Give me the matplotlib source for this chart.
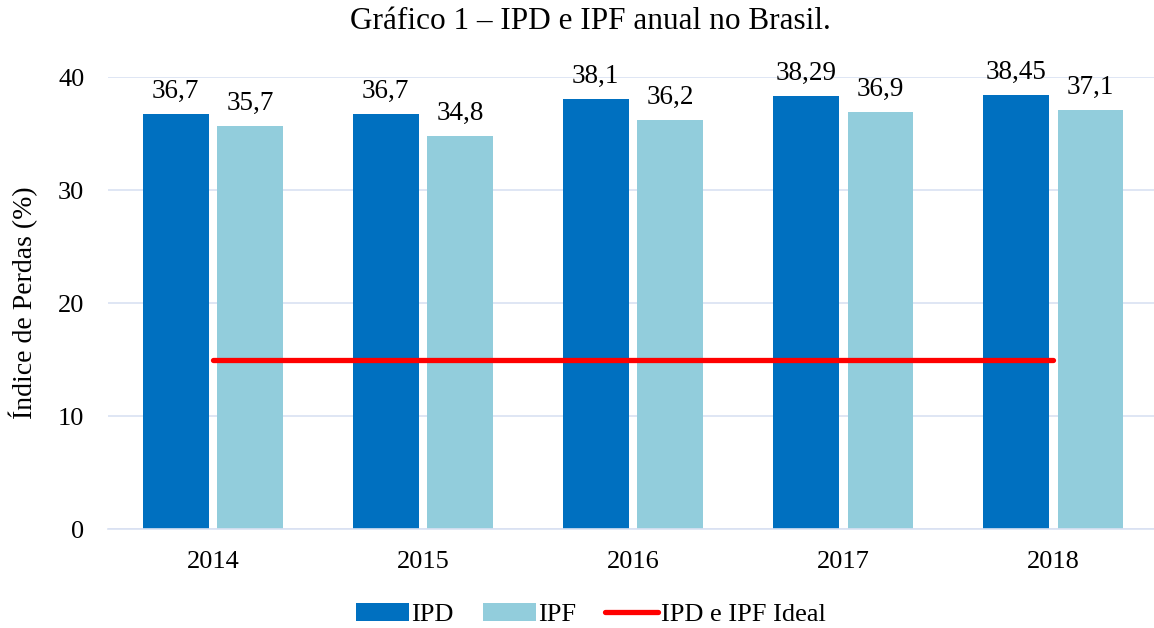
import numpy as np
import matplotlib.pyplot as plt

plt.rcParams['font.family'] = ['Liberation Serif', 'DejaVu Serif']

anos = ['2014', '2015', '2016', '2017', '2018']
ipd = [36.7, 36.7, 38.1, 38.29, 38.45]
ipf = [35.7, 34.8, 36.2, 36.9, 37.1]
ipd_lbl = ['36,7', '36,7', '38,1', '38,29', '38,45']
ipf_lbl = ['35,7', '34,8', '36,2', '36,9', '37,1']
ideal = [15, 15, 15, 15, 15]

fig = plt.figure(figsize=(11.54, 6.28), dpi=100)
ax = fig.add_axes([0.0936, 0.1576, 0.91, 0.7196])

x = np.arange(len(anos))
w = 0.314
b1 = ax.bar(x - 0.178, ipd, w, color='#0070C0', label='IPD', zorder=2)
b2 = ax.bar(x + 0.178, ipf, w, color='#92CDDC', label='IPF', zorder=2)
ln, = ax.plot(x, ideal, color='#FF0000', lw=3.8, solid_capstyle='round',
              label='IPD e IPF Ideal', zorder=3)

# rótulos de dados
for rect, t in zip(b1, ipd_lbl):
    ax.text(rect.get_x() + rect.get_width() / 2, rect.get_height() + 0.9, t,
            ha='center', va='bottom', fontsize=19.5)
for rect, t in zip(b2, ipf_lbl):
    ax.text(rect.get_x() + rect.get_width() / 2, rect.get_height() + 0.9, t,
            ha='center', va='bottom', fontsize=19.5)

ax.set_xlim(-0.5, 4.5)
ax.set_ylim(0, 40)
ax.set_yticks([0, 10, 20, 30, 40])
ax.set_xticks(x)
ax.set_xticklabels(anos)
ax.tick_params(length=0, labelsize=19)
ax.tick_params(axis='x', pad=16)
ax.tick_params(axis='y', pad=17)
ax.grid(axis='y', color='#D9E1F2', lw=1.2, zorder=0)
for s in ['top', 'right', 'left']:
    ax.spines[s].set_visible(False)
ax.spines['bottom'].set_color('#D9E1F2')
ax.spines['bottom'].set_linewidth(1.2)

ax.set_ylabel('Índice de Perdas (%)', fontsize=20, labelpad=14)
fig.text(0.512, 0.965, 'Gráfico 1 – IPD e IPF anual no Brasil.', fontsize=22.5,
         ha='center', va='center')

fig.legend(handles=[b1, b2, ln], loc='lower center', bbox_to_anchor=(0.512, -0.035),
           ncol=3, frameon=False, fontsize=19, handlelength=2.0,
           handletextpad=0.1, columnspacing=1.1)

fig.savefig('out.png', dpi=100)
